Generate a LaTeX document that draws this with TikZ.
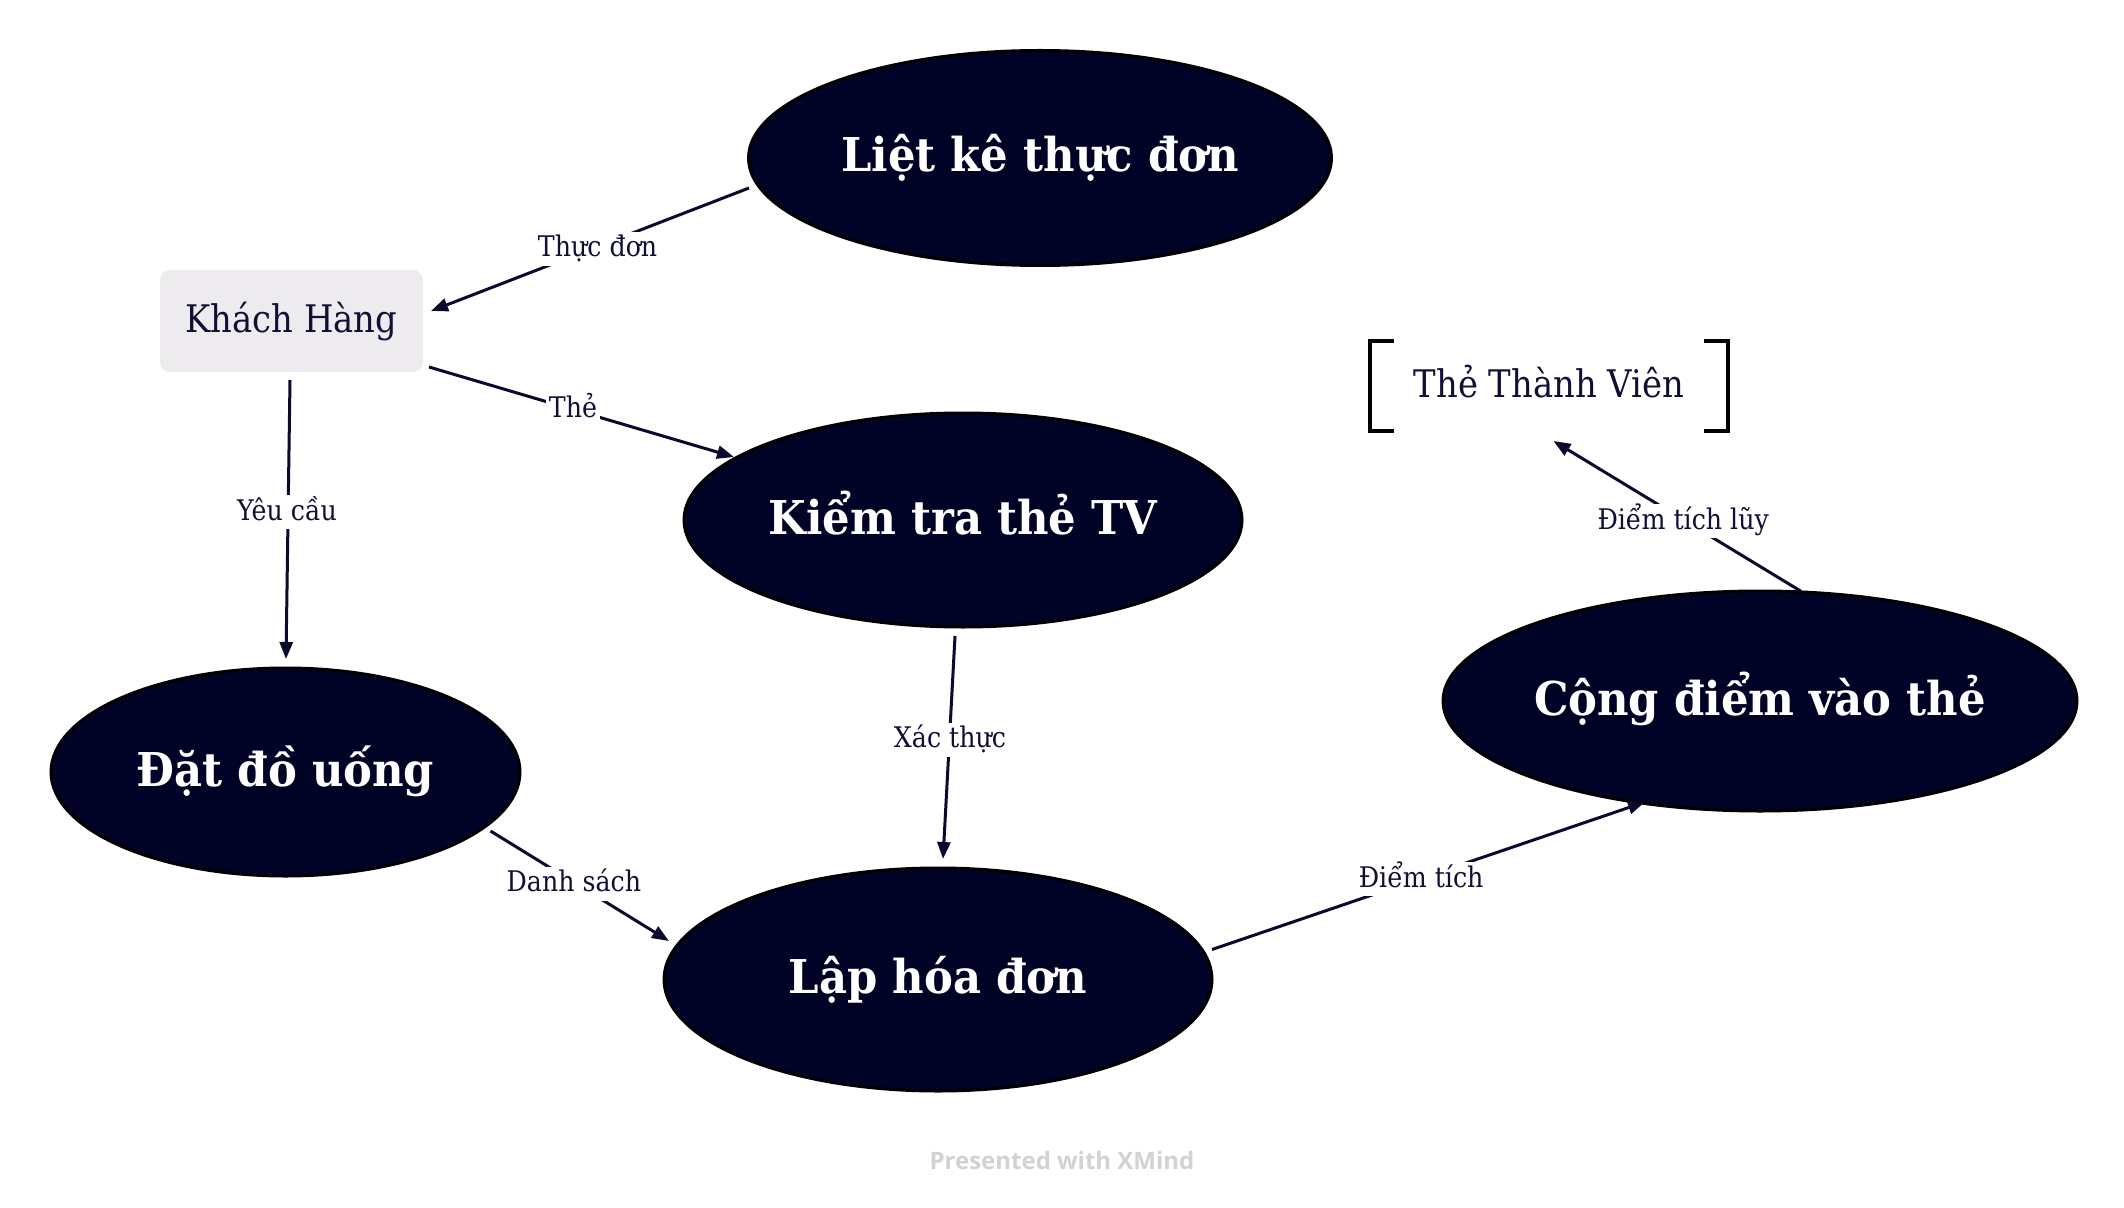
\documentclass[tikz,border=0pt]{standalone}
\usepackage{fontspec}
\setmainfont{DejaVu Serif}[FakeStretch=0.89]
\newfontfamily\ellfont{DejaVu Serif}[FakeStretch=0.93]
\newfontfamily\xmfont{Open Sans}
\usetikzlibrary{shapes.geometric,arrows.meta,calc}
\definecolor{navy}{RGB}{1,3,38}
\definecolor{linec}{RGB}{10,10,46}
\definecolor{txtc}{RGB}{16,16,54}
\definecolor{boxc}{RGB}{237,235,238}
\definecolor{wmc}{RGB}{210,210,210}
\begin{document}
\begin{tikzpicture}[x=0.5pt,y=-0.5pt,
  ell/.style={ellipse, fill=navy, draw=black, line width=1.5pt, inner ysep=0pt, inner xsep=-15pt,
    text=white, font=\ellfont\fontsize{23.3}{28}\selectfont\bfseries, text height=14pt, text depth=0pt},
  custbox/.style={rectangle, rounded corners=5pt, fill=boxc, minimum width=131.5pt, minimum height=51pt,
    text=txtc, font=\fontsize{19}{22}\selectfont, text height=11.5pt, text depth=0pt},
  cardbox/.style={rectangle, minimum width=178.5pt, minimum height=45pt,
    text=txtc, font=\fontsize{19}{22}\selectfont, text height=12pt, text depth=0pt},
  bracketline/.style={draw=black, line width=2pt},
  conn/.style={draw=linec, line width=1.5pt, -{Triangle[length=8.5pt,width=6.5pt]}},
  lbl/.style={fill=white, text=txtc, font=\fontsize{14.2}{16}\selectfont, inner xsep=1.5pt, inner ysep=1.5pt,
    text height=11pt, text depth=3pt, anchor=base},
  wmark/.style={text=wmc, font=\xmfont\bfseries\fontsize{12}{14}\selectfont}
]
\useasboundingbox[fill=white] (0,0) rectangle (2124,1208);

% nodes
\node[ell, minimum width=291.5pt, minimum height=107.5pt] (lk) at (1040,158) {Liệt kê thực đơn};
\node[custbox] (kh) at (291.5,321) {Khách Hàng};
\node[ell, minimum width=279pt, minimum height=107pt] (kt) at (963,520) {Kiểm tra thẻ TV};
\node[ell, minimum width=234.5pt, minimum height=104pt] (dd) at (285.5,772) {Đặt đồ uống};
\node[ell, minimum width=274pt, minimum height=111.5pt] (lh) at (938,979.5) {Lập hóa đơn};
\node[ell, minimum width=317pt, minimum height=110pt] (cd) at (1760,701) {Cộng điểm vào thẻ};
\node[cardbox] (tv) at (1549,386) {Thẻ Thành Viên};

% brackets of the card node
\draw[bracketline] ($(tv.north west)+(24,0)$) -- (tv.north west) -- (tv.south west) -- ($(tv.south west)+(24,0)$);
\draw[bracketline] ($(tv.north east)+(-24,0)$) -- (tv.north east) -- (tv.south east) -- ($(tv.south east)+(-24,0)$);

% connectors
\draw[conn] ($(lk)+(-291,30)$) -- node[lbl, pos=0.476, yshift=-5.2pt]{Thực đơn} ($(kh)+(139.5,-10)$);
\draw[conn] ($(kh)+(137.5,46)$) -- node[lbl, pos=0.472, yshift=-4.25pt]{Thẻ} ($(kt)+(-229,-63)$);
\draw[conn] ($(kh)+(-1.5,59)$) -- node[lbl, pos=0.5, yshift=-0.25pt, xshift=-0.5pt]{Yêu cầu} ($(dd)+(0.5,-113)$);
\draw[conn] ($(kt)+(-8,116)$) -- node[lbl, pos=0.5, xshift=0.5pt]{Xác thực} ($(lh)+(5,-120.5)$);
\draw[conn] ($(dd)+(205,59)$) -- node[lbl, pos=0.467, yshift=-4.65pt]{Danh sách} ($(lh)+(-269,-38.5)$);
\draw[conn] ($(lh)+(274,-30)$) -- node[lbl, pos=0.483, yshift=-4.5pt]{Điểm tích} ($(cd)+(-115,101)$);
\draw[conn] ($(cd)+(40.5,-110)$) -- node[lbl, pos=0.475, yshift=-4.85pt]{Điểm tích lũy} ($(tv)+(4.5,55)$);

% watermark
\node[wmark] (wm) at (1062,1160) {Presented with XMind};
\end{tikzpicture}
\end{document}
